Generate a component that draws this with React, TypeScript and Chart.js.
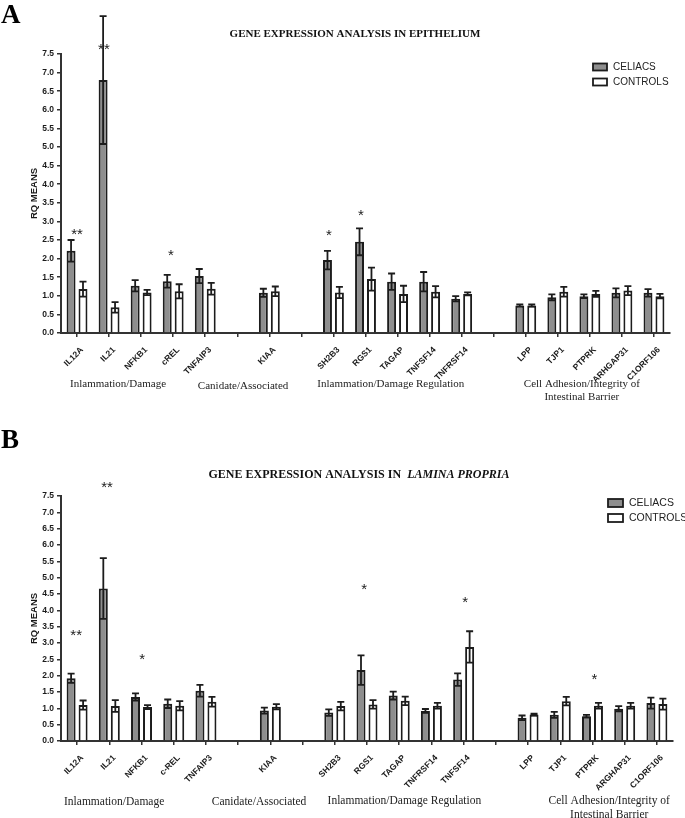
import React, { useEffect, useRef } from "react";
import { Chart, registerables } from "chart.js";

Chart.register(...registerables);

// ---------- Panel A data (epithelium) ----------
const GENES_A = ["IL12A", "IL21", "NFKB1", "cREL", "TNFAIP3", "", "KIAA", "", "SH2B3", "RGS1", "TAGAP", "TNFSF14", "TNFRSF14", "", "LPP", "TJP1", "PTPRK", "ARHGAP31", "C1ORF106"];
const CELIACS_A = [2.21, 6.8, 1.27, 1.39, 1.53, null, 1.08, null, 1.96, 2.45, 1.38, 1.38, 0.92, null, 0.74, 0.96, 0.99, 1.08, 1.08];
const CELIACS_A_ERR = [0.29, 1.72, 0.15, 0.17, 0.19, null, 0.11, null, 0.25, 0.36, 0.22, 0.26, 0.07, null, 0.03, 0.08, 0.05, 0.12, 0.1];
const CONTROLS_A = [1.18, 0.69, 1.09, 1.12, 1.19, null, 1.12, null, 1.09, 1.45, 1.05, 1.11, 1.05, null, 0.74, 1.11, 1.05, 1.14, 0.99];
const CONTROLS_A_ERR = [0.2, 0.14, 0.07, 0.19, 0.16, null, 0.13, null, 0.15, 0.31, 0.22, 0.15, 0.04, null, 0.03, 0.13, 0.08, 0.12, 0.06];
const STARS_A_TEXT = ["**", "**", "*", "*", "*"];
const STARS_A_SLOT = [0, 0.84, 2.93, 7.86, 8.86];
const STARS_A_Y = [2.72, 7.7, 2.15, 2.69, 3.23];

// ---------- Panel B data (lamina propria) ----------
const GENES_B = ["IL12A", "IL21", "NFKB1", "c-REL", "TNFAIP3", "", "KIAA", "", "SH2B3", "RGS1", "TAGAP", "TNFRSF14", "TNFSF14", "", "LPP", "TJP1", "PTPRK", "ARGHAP31", "C1ORF106"];
const CELIACS_B = [1.92, 4.67, 1.35, 1.14, 1.54, null, 0.93, null, 0.87, 2.17, 1.39, 0.92, 1.88, null, 0.71, 0.8, 0.76, 0.99, 1.16];
const CELIACS_B_ERR = [0.14, 0.93, 0.11, 0.13, 0.18, null, 0.09, null, 0.1, 0.45, 0.12, 0.06, 0.19, null, 0.07, 0.09, 0.04, 0.08, 0.17];
const CONTROLS_B = [1.1, 1.07, 1.04, 1.08, 1.2, null, 1.05, null, 1.07, 1.12, 1.23, 1.08, 2.88, null, 0.81, 1.22, 1.08, 1.08, 1.13];
const CONTROLS_B_ERR = [0.14, 0.18, 0.06, 0.14, 0.15, null, 0.08, null, 0.13, 0.13, 0.13, 0.09, 0.48, null, 0.03, 0.13, 0.09, 0.09, 0.17];
const STARS_B_TEXT = ["**", "**", "*", "*", "*", "*"];
const STARS_B_SLOT = [-0.03, 0.93, 2.02, 8.91, 12.05, 16.06];
const STARS_B_Y = [3.31, 7.84, 2.57, 4.72, 4.32, 1.96];

const GROUP_LABELS = ["Inlammation/Damage", "Canidate/Associated", "Inlammation/Damage Regulation", "Cell Adhesion/Integrity of\nIntestinal Barrier"];
const SERIES_NAMES = ["CELIACS", "CONTROLS"];
const Y_MIN = 0;
const Y_MAX = 7.5;
const Y_STEP = 0.5;

const SANS = "'Liberation Sans', Arial, sans-serif";
const SERIF = "'Liberation Serif', 'Times New Roman', serif";
const INK = "#1c1c1c";
const GREY = "#8e8e8e";

type PanelCfg = {
  letter: string;
  letterBaseline: number;
  titleParts: { text: string; italic: boolean }[];
  titleX: number;
  titleY: number;
  titleSize: number;
  labels: string[];
  celiacs: (number | null)[];
  celiacsErr: (number | null)[];
  controls: (number | null)[];
  controlsErr: (number | null)[];
  starsText: string[];
  starsSlot: number[];
  starsY: number[];
  groupSlots: number[];
  groupY: number[];
  groupSize: number;
  legendX: number;
  legendY: number;
  legendBoxW: number;
  legendBoxH: number;
  legendSize: number;
  padTop: number;
  padRight: number;
  yWidth: number;
  xHeight: number;
  height: number;
};

const PANEL_A: PanelCfg = {
  letter: "A",
  letterBaseline: 23,
  titleParts: [{ text: "GENE EXPRESSION ANALYSIS IN EPITHELIUM", italic: false }],
  titleX: 355,
  titleY: 34,
  titleSize: 11,
  labels: GENES_A,
  celiacs: CELIACS_A,
  celiacsErr: CELIACS_A_ERR,
  controls: CONTROLS_A,
  controlsErr: CONTROLS_A_ERR,
  starsText: STARS_A_TEXT,
  starsSlot: STARS_A_SLOT,
  starsY: STARS_A_Y,
  groupSlots: [1.28, 5.18, 9.79, 15.75],
  groupY: [384, 386, 384, 384],
  groupSize: 11,
  legendX: 593,
  legendY: 67,
  legendBoxW: 14,
  legendBoxH: 7,
  legendSize: 10,
  padTop: 54,
  padRight: 15,
  yWidth: 61,
  xHeight: 76,
  height: 409,
};

const PANEL_B: PanelCfg = {
  letter: "B",
  letterBaseline: 39,
  titleParts: [
    { text: "GENE EXPRESSION ANALYSIS IN  ", italic: false },
    { text: "LAMINA PROPRIA", italic: true },
  ],
  titleX: 359,
  titleY: 66,
  titleSize: 12,
  labels: GENES_B,
  celiacs: CELIACS_B,
  celiacsErr: CELIACS_B_ERR,
  controls: CONTROLS_B,
  controlsErr: CONTROLS_B_ERR,
  starsText: STARS_B_TEXT,
  starsSlot: STARS_B_SLOT,
  starsY: STARS_B_Y,
  groupSlots: [1.15, 5.65, 10.16, 16.52],
  groupY: [393, 393, 392, 392],
  groupSize: 11.5,
  legendX: 608,
  legendY: 94,
  legendBoxW: 15,
  legendBoxH: 8,
  legendSize: 10.5,
  padTop: 87,
  padRight: 12,
  yWidth: 61,
  xHeight: 77,
  height: 409,
};

function makeAnnotations(cfg: PanelCfg) {
  return {
    id: "panelAnnotations",
    afterDatasetsDraw(chart: any) {
      const ctx = chart.ctx;
      const y = chart.scales.y;
      const errs = [cfg.celiacsErr, cfg.controlsErr];
      const vals = [cfg.celiacs, cfg.controls];
      ctx.save();
      ctx.strokeStyle = INK;
      ctx.lineWidth = 1.8;
      for (let d = 0; d < 2; d++) {
        const meta = chart.getDatasetMeta(d);
        meta.data.forEach((el: any, i: number) => {
          const v = vals[d][i];
          const e = errs[d][i];
          if (v == null || e == null) return;
          const x = el.x;
          const yTop = y.getPixelForValue(v + e);
          const yBot = y.getPixelForValue(v - e);
          const cap = 3.5;
          ctx.beginPath();
          ctx.moveTo(x, yTop);
          ctx.lineTo(x, yBot);
          ctx.moveTo(x - cap, yTop);
          ctx.lineTo(x + cap, yTop);
          ctx.moveTo(x - cap, yBot);
          ctx.lineTo(x + cap, yBot);
          ctx.stroke();
        });
      }
      ctx.restore();
    },
    afterDraw(chart: any) {
      const ctx = chart.ctx;
      const x = chart.scales.x;
      const y = chart.scales.y;
      const x0 = x.getPixelForValue(0);
      const step = x.getPixelForValue(1) - x0;
      ctx.save();

      // panel letter
      ctx.fillStyle = "#000";
      ctx.font = `bold 27px ${SERIF}`;
      ctx.textAlign = "left";
      ctx.textBaseline = "alphabetic";
      ctx.fillText(cfg.letter, 1, cfg.letterBaseline);

      // title (mixed upright / italic parts)
      ctx.fillStyle = "#111";
      ctx.textBaseline = "middle";
      const fonts = cfg.titleParts.map((p) => `${p.italic ? "italic " : ""}bold ${cfg.titleSize}px ${SERIF}`);
      const widths = cfg.titleParts.map((p, i) => {
        ctx.font = fonts[i];
        return ctx.measureText(p.text).width;
      });
      let tx = cfg.titleX - widths.reduce((a, b) => a + b, 0) / 2;
      cfg.titleParts.forEach((p, i) => {
        ctx.font = fonts[i];
        ctx.fillText(p.text, tx, cfg.titleY);
        tx += widths[i];
      });

      // significance stars
      ctx.font = `15px ${SANS}`;
      ctx.textAlign = "center";
      ctx.fillStyle = "#222";
      cfg.starsText.forEach((s, i) => {
        const px = x0 + cfg.starsSlot[i] * step;
        const py = y.getPixelForValue(cfg.starsY[i]) + 3;
        ctx.fillText(s, px, py);
      });

      // group labels
      ctx.font = `${cfg.groupSize}px ${SERIF}`;
      ctx.fillStyle = "#222";
      GROUP_LABELS.forEach((g, i) => {
        const px = x0 + cfg.groupSlots[i] * step;
        g.split("\n").forEach((line, k) => {
          ctx.fillText(line, px, cfg.groupY[i] + k * 13.5);
        });
      });

      // legend
      ctx.textAlign = "left";
      ctx.font = `${cfg.legendSize}px ${SANS}`;
      const fills = [GREY, "#ffffff"];
      SERIES_NAMES.forEach((name, i) => {
        const cy = cfg.legendY + i * 15;
        ctx.fillStyle = fills[i];
        ctx.fillRect(cfg.legendX, cy - cfg.legendBoxH / 2, cfg.legendBoxW, cfg.legendBoxH);
        ctx.strokeStyle = INK;
        ctx.lineWidth = 1.8;
        ctx.strokeRect(cfg.legendX, cy - cfg.legendBoxH / 2, cfg.legendBoxW, cfg.legendBoxH);
        ctx.fillStyle = "#222";
        ctx.fillText(name, cfg.legendX + cfg.legendBoxW + 6, cy);
      });
      ctx.restore();
    },
  };
}

function Panel({ cfg }: { cfg: PanelCfg }) {
  const ref = useRef<HTMLCanvasElement | null>(null);
  useEffect(() => {
    if (!ref.current) return;
    const chart = new Chart(ref.current, {
      type: "bar",
      data: {
        labels: cfg.labels,
        datasets: [
          {
            label: SERIES_NAMES[0],
            data: cfg.celiacs as any,
            backgroundColor: GREY,
            borderColor: INK,
            borderWidth: 2,
            categoryPercentage: 0.745,
            barPercentage: 0.75,
          },
          {
            label: SERIES_NAMES[1],
            data: cfg.controls as any,
            backgroundColor: "#ffffff",
            borderColor: INK,
            borderWidth: 2,
            categoryPercentage: 0.745,
            barPercentage: 0.75,
          },
        ],
      },
      options: {
        responsive: false,
        animation: false,
        devicePixelRatio: 1,
        layout: { padding: { left: 0, top: cfg.padTop, right: cfg.padRight, bottom: 0 } },
        plugins: {
          legend: { display: false },
          title: { display: false },
          tooltip: { enabled: false },
        },
        scales: {
          x: {
            type: "category",
            grid: {
              display: true,
              drawOnChartArea: false,
              drawTicks: true,
              tickLength: 4,
              offset: false,
              color: "#333",
              lineWidth: 1.5,
            },
            border: { display: true, color: "#333", width: 2 },
            ticks: {
              autoSkip: false,
              minRotation: 45,
              maxRotation: 45,
              padding: 8,
              labelOffset: 5,
              color: "#1a1a1a",
              font: { family: SANS, weight: "bold", size: 8.5 },
            },
            afterFit: (s: any) => {
              s.height = cfg.xHeight;
            },
          },
          y: {
            min: Y_MIN,
            max: Y_MAX,
            ticks: {
              stepSize: Y_STEP,
              padding: 3,
              color: "#1a1a1a",
              font: { family: SANS, weight: "bold", size: 8.5 },
              callback: (v: any) => Number(v).toFixed(1),
            },
            grid: {
              drawOnChartArea: false,
              drawTicks: true,
              tickLength: 4,
              color: "#333",
              lineWidth: 1.5,
            },
            border: { display: true, color: "#333", width: 2 },
            title: {
              display: true,
              text: "RQ MEANS",
              color: "#1a1a1a",
              font: { family: SANS, weight: "bold", size: 9.5 },
              padding: { top: 29, bottom: 0 },
            },
            afterFit: (s: any) => {
              s.width = cfg.yWidth;
            },
          },
        },
      } as any,
      plugins: [makeAnnotations(cfg)],
    });
    return () => chart.destroy();
  }, [cfg]);
  return <canvas ref={ref} width={685} height={cfg.height} style={{ display: "block", width: 685, height: cfg.height }} />;
}

export default function App() {
  return (
    <div style={{ position: "absolute", left: 0, top: 0, width: 685, height: 818, background: "#fff", overflow: "hidden" }}>
      <Panel cfg={PANEL_A} />
      <Panel cfg={PANEL_B} />
    </div>
  );
}
